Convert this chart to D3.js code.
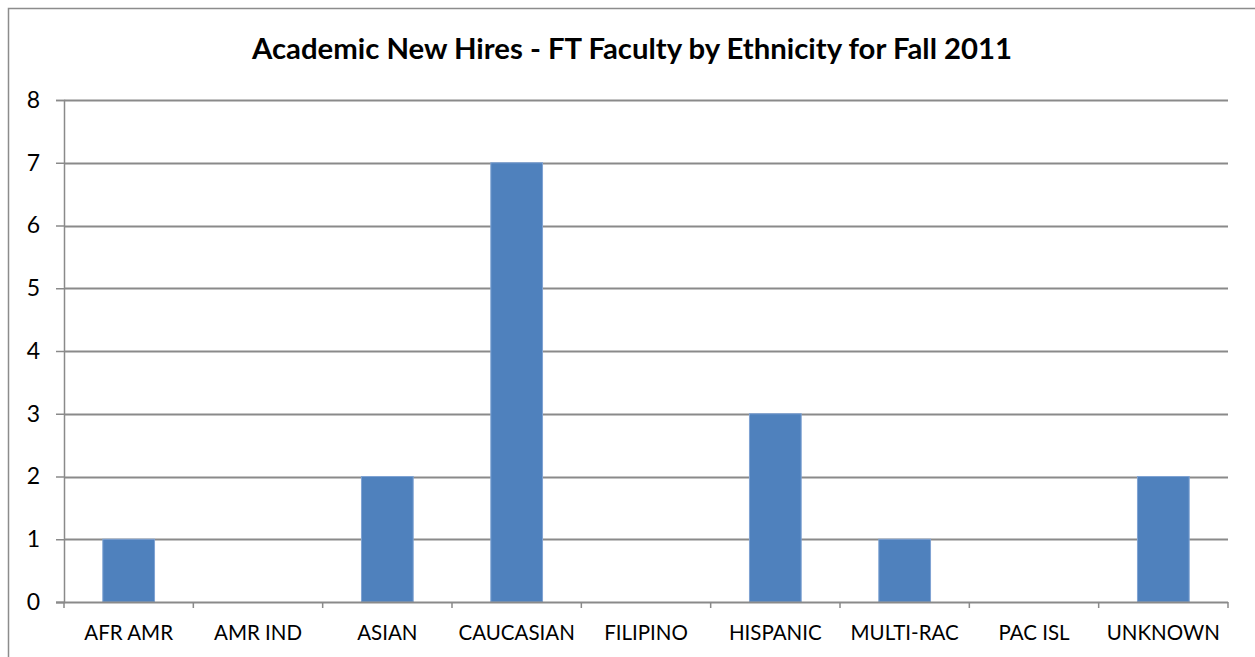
<!DOCTYPE html>
<html><head><meta charset="utf-8">
<script src="https://cdn.jsdelivr.net/npm/d3@7"></script>
<style>body{margin:0;background:#fff}svg{display:block}</style>
</head><body>
<svg id="c" width="1255" height="657"></svg>
<script>
const categories = ["AFR AMR","AMR IND","ASIAN","CAUCASIAN","FILIPINO","HISPANIC","MULTI-RAC","PAC ISL","UNKNOWN"];
const values = [1,0,2,7,0,3,1,0,2];
const yTicks = [0,1,2,3,4,5,6,7,8];
const title = "Academic New Hires - FT Faculty by Ethnicity for Fall 2011";

const svg = d3.select("#c");
const font = "Lato, 'Open Sans', sans-serif";
const L = 64, R = 1228, T = 100, B = 602;

svg.append("rect").attr("x",8.5).attr("y",8.5).attr("width",1270).attr("height",670)
  .attr("fill","#fff").attr("stroke","#8c8c8c").attr("stroke-width",1.5);

svg.append("text").attr("x",632).attr("y",59).attr("text-anchor","middle")
  .attr("font-family",font).attr("font-weight","bold").attr("font-size",29.3)
  .attr("fill","#000").text(title);

const x = d3.scaleBand().domain(categories).range([L,R]).paddingInner(0.6).paddingOuter(0.3);
const y = d3.scaleLinear().domain([0,8]).range([B,T]);

// gridlines
svg.append("g").selectAll("line").data(yTicks.filter(d=>d>0)).join("line")
  .attr("x1",L).attr("x2",R).attr("y1",d=>Math.round(y(d))+0.5).attr("y2",d=>Math.round(y(d))+0.5)
  .attr("stroke","#8a8a8a").attr("stroke-width",2);

// bars
svg.append("g").selectAll("rect").data(categories).join("rect")
  .attr("x",d=>x(d)).attr("width",x.bandwidth())
  .attr("y",(d,i)=>y(values[i])).attr("height",(d,i)=>y(0)-y(values[i]))
  .attr("fill","#4F81BD").attr("stroke","#7fa3d3").attr("stroke-width",1);

// y axis
const ya = svg.append("g").attr("transform",`translate(${L},0)`)
  .call(d3.axisLeft(y).tickValues(yTicks).tickSize(8).tickPadding(16).tickFormat(d3.format("d")));
ya.select(".domain").attr("stroke","#8a8a8a").attr("stroke-width",1.5);
ya.selectAll(".tick line").attr("stroke","#8a8a8a").attr("stroke-width",1.5);
ya.selectAll("text").attr("font-family",font).attr("font-size",23).attr("fill","#000");

// x axis
const step = x.step();
const bounds = d3.range(categories.length+1).map(i=>L+i*step);
const xa = svg.append("g").attr("transform",`translate(0,${B})`);
xa.append("line").attr("x1",L-8).attr("x2",R).attr("y1",0.5).attr("y2",0.5).attr("stroke","#8a8a8a").attr("stroke-width",2);
xa.selectAll("line.t").data(bounds).join("line").attr("class","t")
  .attr("x1",d=>d).attr("x2",d=>d).attr("y1",0).attr("y2",6).attr("stroke","#8a8a8a").attr("stroke-width",1.5);
xa.selectAll("text").data(categories).join("text")
  .attr("x",d=>x(d)+x.bandwidth()/2).attr("y",38).attr("text-anchor","middle")
  .attr("font-family",font).attr("font-size",20.5).attr("fill","#000").text(d=>d);
</script>
</body></html>
